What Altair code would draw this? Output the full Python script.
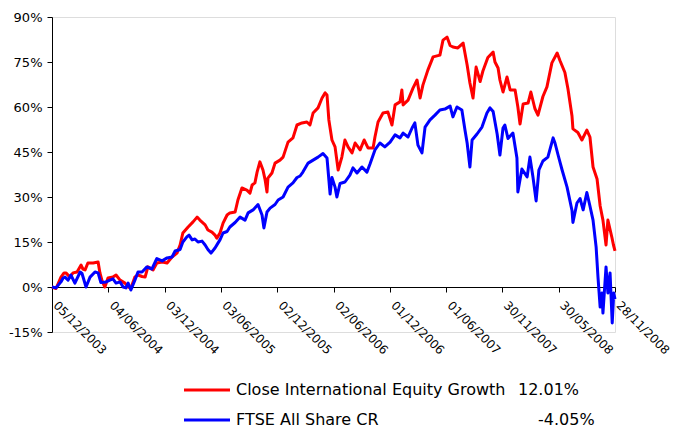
import altair as alt
import pandas as pd

# ---- data (cumulative return, %) ----
red_dates = [
    "2003-12-05", "2003-12-18", "2004-01-03", "2004-01-13", "2004-01-19", "2004-02-01", "2004-02-11",
    "2004-02-24", "2004-03-08", "2004-03-14", "2004-03-21", "2004-03-30", "2004-04-16", "2004-05-02",
    "2004-05-08", "2004-05-15", "2004-05-24", "2004-06-03", "2004-06-19", "2004-06-29", "2004-07-12",
    "2004-07-28", "2004-08-07", "2004-08-16", "2004-08-29", "2004-09-08", "2004-09-21", "2004-10-01",
    "2004-10-10", "2004-10-27", "2004-11-08", "2004-11-25", "2004-12-11", "2004-12-27", "2005-01-12",
    "2005-01-22", "2005-01-31", "2005-02-17", "2005-03-05", "2005-03-18", "2005-03-27", "2005-04-13",
    "2005-04-22", "2005-05-05", "2005-05-15", "2005-05-21", "2005-05-31", "2005-06-10", "2005-06-23",
    "2005-07-02", "2005-07-19", "2005-07-28", "2005-08-10", "2005-08-26", "2005-09-05", "2005-09-12",
    "2005-09-21", "2005-09-28", "2005-10-07", "2005-10-17", "2005-10-24", "2005-10-30", "2005-11-02",
    "2005-11-15", "2005-11-25", "2005-12-11", "2005-12-21", "2006-01-06", "2006-01-22", "2006-02-04",
    "2006-02-20", "2006-03-08", "2006-03-18", "2006-03-28", "2006-04-13", "2006-04-26", "2006-05-06",
    "2006-05-12", "2006-05-18", "2006-05-28", "2006-06-07", "2006-06-17", "2006-06-29", "2006-07-09",
    "2006-07-19", "2006-08-01", "2006-08-11", "2006-08-27", "2006-09-09", "2006-09-22", "2006-10-08",
    "2006-10-14", "2006-10-24", "2006-11-09", "2006-11-25", "2006-12-08", "2006-12-18", "2007-01-03",
    "2007-01-09", "2007-01-13", "2007-01-29", "2007-02-14", "2007-02-27", "2007-03-09", "2007-03-18",
    "2007-04-03", "2007-04-20", "2007-05-12", "2007-05-22", "2007-06-04", "2007-06-14", "2007-06-23",
    "2007-07-09", "2007-07-26", "2007-08-08", "2007-08-17", "2007-08-27", "2007-09-06", "2007-09-19",
    "2007-09-28", "2007-10-14", "2007-10-31", "2007-11-06", "2007-11-16", "2007-11-22", "2007-12-02",
    "2007-12-15", "2007-12-25", "2008-01-10", "2008-01-19", "2008-01-26", "2008-02-05", "2008-02-21",
    "2008-03-01", "2008-03-14", "2008-03-24", "2008-04-09", "2008-04-22", "2008-05-08", "2008-05-25",
    "2008-06-03", "2008-06-19", "2008-06-29", "2008-07-12", "2008-07-15", "2008-07-31", "2008-08-13",
    "2008-08-29", "2008-09-08", "2008-09-18", "2008-10-01", "2008-10-11", "2008-10-20", "2008-10-30",
    "2008-11-05", "2008-11-18", "2008-11-23", "2008-11-28",
]
red_values = [
    0.0, -0.5, 3.3, 4.7, 4.7, 3.3, 4.7,
    5.0, 7.3, 6.0, 5.7, 8.0, 8.0, 8.3,
    4.7, 2.0, 0.0, 3.0, 3.3, 4.0, 2.3,
    1.3, 0.0, -0.3, 3.3, 4.0, 3.5, 3.3,
    6.7, 5.7, 8.0, 8.3, 8.0, 10.0, 11.3,
    14.0, 18.0, 20.0, 21.7, 23.3, 22.3, 20.7,
    19.0, 18.3, 17.3, 16.3, 18.0, 21.3, 24.0,
    24.7, 25.0, 29.0, 33.0, 32.3, 31.3, 34.0,
    34.7, 38.3, 41.7, 39.0, 35.7, 31.7, 36.3,
    38.0, 41.3, 42.3, 43.3, 48.3, 49.7, 54.0,
    54.7, 55.0, 54.0, 58.0, 59.7, 63.0, 64.7,
    64.0, 55.7, 49.0, 46.7, 39.0, 43.3, 49.0,
    46.7, 44.7, 48.0, 45.7, 49.0, 46.3, 46.3,
    50.0, 55.0, 58.0, 58.3, 54.0, 60.7, 61.7,
    65.7, 60.7, 62.3, 66.3, 69.0, 63.0, 67.3,
    72.3, 76.7, 77.3, 82.3, 83.3, 80.5, 80.0,
    79.7, 81.3, 74.0, 68.0, 63.0, 73.3, 68.5,
    72.0, 76.5, 78.3, 75.0, 73.0, 69.0, 65.0,
    70.0, 65.7, 65.7, 60.0, 54.3, 61.0, 61.3,
    65.0, 59.5, 57.3, 63.5, 66.7, 74.7, 78.0,
    75.5, 71.5, 66.0, 57.0, 52.7, 51.5, 49.0,
    52.3, 50.0, 40.0, 36.0, 27.0, 22.3, 14.0,
    22.3, 16.5, 14.0, 12.01,
]

blue_dates = [
    "2003-12-05", "2003-12-18", "2004-01-03", "2004-01-10", "2004-01-16", "2004-01-26", "2004-02-04",
    "2004-02-17", "2004-03-05", "2004-03-11", "2004-03-24", "2004-04-06", "2004-04-22", "2004-05-02",
    "2004-05-11", "2004-05-28", "2004-06-09", "2004-06-19", "2004-06-29", "2004-07-12", "2004-07-22",
    "2004-07-31", "2004-08-07", "2004-08-16", "2004-08-29", "2004-09-08", "2004-09-21", "2004-10-07",
    "2004-10-23", "2004-11-08", "2004-11-25", "2004-12-11", "2004-12-27", "2005-01-06", "2005-01-22",
    "2005-01-31", "2005-02-13", "2005-02-20", "2005-03-02", "2005-03-11", "2005-03-21", "2005-04-03",
    "2005-04-13", "2005-04-22", "2005-05-02", "2005-05-15", "2005-05-25", "2005-05-31", "2005-06-10",
    "2005-06-23", "2005-07-02", "2005-07-19", "2005-08-04", "2005-08-20", "2005-08-30", "2005-09-15",
    "2005-10-01", "2005-10-14", "2005-10-20", "2005-10-30", "2005-11-09", "2005-11-25", "2005-12-05",
    "2005-12-21", "2006-01-06", "2006-01-22", "2006-02-04", "2006-02-14", "2006-02-23", "2006-03-12",
    "2006-03-28", "2006-04-13", "2006-04-29", "2006-05-12", "2006-05-22", "2006-05-28", "2006-06-07",
    "2006-06-13", "2006-06-23", "2006-07-09", "2006-07-25", "2006-08-04", "2006-08-17", "2006-09-02",
    "2006-09-18", "2006-09-28", "2006-10-14", "2006-10-30", "2006-11-15", "2006-12-02", "2006-12-18",
    "2007-01-03", "2007-01-13", "2007-01-29", "2007-02-11", "2007-02-20", "2007-03-02", "2007-03-15",
    "2007-03-25", "2007-04-10", "2007-04-26", "2007-05-12", "2007-05-28", "2007-06-14", "2007-06-23",
    "2007-07-06", "2007-07-22", "2007-08-01", "2007-08-08", "2007-08-17", "2007-08-24", "2007-09-09",
    "2007-09-25", "2007-10-11", "2007-10-21", "2007-10-31", "2007-11-13", "2007-11-22", "2007-12-02",
    "2007-12-08", "2007-12-18", "2008-01-03", "2008-01-16", "2008-01-19", "2008-02-01", "2008-02-18",
    "2008-02-27", "2008-03-08", "2008-03-18", "2008-03-27", "2008-04-09", "2008-04-25", "2008-05-12",
    "2008-05-18", "2008-05-28", "2008-06-10", "2008-06-26", "2008-07-12", "2008-07-15", "2008-07-28",
    "2008-08-07", "2008-08-17", "2008-08-29", "2008-09-08", "2008-09-18", "2008-09-28", "2008-10-04",
    "2008-10-11", "2008-10-17", "2008-10-20", "2008-10-30", "2008-11-05", "2008-11-12", "2008-11-19",
    "2008-11-24", "2008-11-28",
]
blue_values = [
    0.0, -0.3, 1.7, 3.0, 3.3, 2.3, 4.0,
    1.3, 5.0, 4.5, 0.0, 3.3, 5.0, 4.7,
    1.5, 1.7, 2.3, 2.7, 1.3, 1.7, 0.0,
    -0.3, 1.3, -1.0, 2.3, 5.0, 5.0, 6.7,
    6.0, 9.5, 8.7, 9.7, 10.0, 12.0, 12.5,
    15.0, 16.7, 17.3, 15.7, 16.0, 15.0, 15.3,
    14.0, 12.5, 11.3, 13.0, 14.7, 15.7, 18.0,
    18.5, 20.0, 21.5, 23.3, 22.3, 24.7, 25.7,
    27.5, 24.0, 19.7, 25.0, 26.3, 27.5, 29.0,
    30.0, 33.3, 34.7, 36.5, 37.0, 38.3, 41.3,
    42.3, 43.3, 44.5, 43.0, 31.0, 36.5, 33.3,
    30.0, 34.5, 35.0, 37.3, 39.7, 38.0, 40.0,
    38.3, 41.0, 45.7, 48.0, 46.7, 48.3, 50.7,
    49.7, 51.3, 50.0, 53.0, 54.7, 47.3, 44.7,
    53.3, 55.7, 57.3, 59.0, 59.3, 60.3, 56.7,
    60.0, 59.0, 52.3, 48.0, 40.0, 49.0, 51.0,
    53.3, 58.0, 59.7, 58.5, 51.0, 44.0, 53.0,
    54.0, 49.5, 51.3, 43.0, 31.7, 39.3, 36.7,
    43.3, 36.5, 28.7, 39.0, 42.0, 43.3, 49.7,
    48.0, 44.0, 39.0, 33.3, 25.5, 21.5, 28.0,
    29.5, 25.7, 31.5, 27.0, 22.3, 13.3, 3.3,
    -6.7, -2.0, -8.7, 6.7, -2.0, 4.7, -12.0,
    -2.0, -4.05,
]

series_names = ["Close International Equity Growth", "FTSE All Share CR"]
series_returns = ["12.01%", "-4.05%"]
series_colors = ["#FF0000", "#0000FF"]

x_tick_dates = ["2003-12-05", "2004-06-04", "2004-12-03", "2005-06-03", "2005-12-02", "2006-06-02",
                "2006-12-01", "2007-06-01", "2007-11-30", "2008-05-30", "2008-11-28"]
y_ticks = [-15, 0, 15, 30, 45, 60, 75, 90]
y_min, y_max = -15, 90

# ---- build table ----
df = pd.concat([
    pd.DataFrame({"date": red_dates, "value": red_values, "series": series_names[0]}),
    pd.DataFrame({"date": blue_dates, "value": blue_values, "series": series_names[1]}),
])


def dt(s):
    t = pd.Timestamp(s)
    return alt.DateTime(year=t.year, month=t.month, date=t.day, utc=True)


W, H = 563, 315
FONT = "DejaVu Sans"
zero_offset = -H * (0 - y_min) / (y_max - y_min)

lines = alt.Chart(df).mark_line(strokeWidth=3, strokeJoin="round").encode(
    x=alt.X("date:T",
            scale=alt.Scale(type="utc", domain=[dt(x_tick_dates[0]), dt(x_tick_dates[-1])]),
            axis=alt.Axis(values=[dt(d) for d in x_tick_dates], format="%d/%m/%Y",
                          labelAngle=45, labelAlign="left", labelBaseline="middle",
                          labelPadding=11, labelOffset=3, offset=zero_offset, tickSize=5,
                          grid=False, title=None, domainColor="black", tickColor="black",
                          labelFont=FONT, labelFontSize=12, labelColor="black",
                          labelOverlap=False, labelFlush=False, labelBound=False)),
    y=alt.Y("value:Q",
            scale=alt.Scale(domain=[y_min, y_max], nice=False, zero=False),
            axis=alt.Axis(values=y_ticks, labelExpr="datum.value + '%'", grid=False,
                          title=None, tickSize=5, labelPadding=5, domainColor="black",
                          tickColor="black", labelFont=FONT, labelFontSize=13,
                          labelColor="black")),
    color=alt.Color("series:N", scale=alt.Scale(domain=series_names, range=series_colors),
                    legend=None),
    order=alt.Order("series:N"),
)

layers = [lines]
for i, (name, ret, col) in enumerate(zip(series_names, series_returns, series_colors)):
    leg = pd.DataFrame({"name": [name], "ret": [ret]})
    ypos = 373 + 30 * i
    layers.append(alt.Chart(leg).mark_rule(strokeWidth=3, color=col).encode(
        x=alt.value(132), x2=alt.value(178), y=alt.value(ypos)))
    layers.append(alt.Chart(leg).mark_text(align="left", baseline="middle", font=FONT,
                                           fontSize=16, color="black").encode(
        x=alt.value(184), y=alt.value(ypos), text="name:N"))
    layers.append(alt.Chart(leg).mark_text(align="left", baseline="middle", font=FONT,
                                           fontSize=16, color="black").encode(
        x=alt.value(466 + 20 * i), y=alt.value(ypos), text="ret:N"))

chart = alt.layer(*layers).properties(
    width=W, height=H,
    padding={"left": 44, "top": 9, "right": 57, "bottom": 99},
    autosize=alt.AutoSizeParams(type="none"),
).configure_view(stroke=None).configure(background="white")

chart.save("out.html", embed_options={"renderer": "svg", "actions": False})
